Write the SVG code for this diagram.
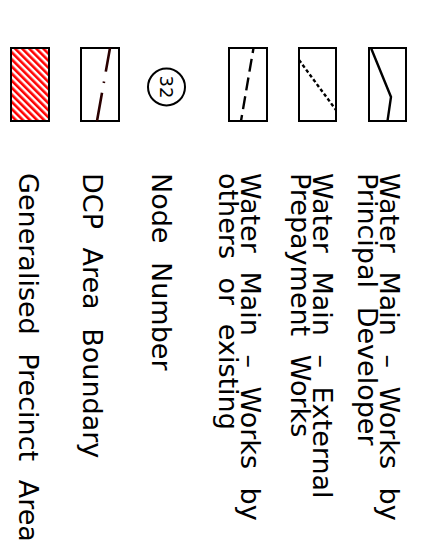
<svg xmlns="http://www.w3.org/2000/svg" width="428" height="557" viewBox="0 0 428 557">
  <defs>
    <pattern id="hatch" width="5" height="5" patternUnits="userSpaceOnUse" patternTransform="rotate(-45)">
      <rect width="5" height="5" fill="#fff"/>
      <rect width="2.6" height="5" fill="#ff0000"/>
    </pattern>
  </defs>
  <style>
    .box { fill: #fff; stroke: #000; stroke-width: 2; }
    .lbl { font-family: "DejaVu Sans ExtraLight", "DejaVu Sans", "Liberation Sans", sans-serif; font-size: 27px; fill: #000; word-spacing: 10px; }
    .num { font-family: "DejaVu Sans", "Liberation Sans", sans-serif; font-size: 18px; fill: #000; text-anchor: middle; }
    .ln { fill: none; stroke: #000; stroke-width: 2.4; }
  </style>
  <rect width="428" height="557" fill="#fff"/>

  <g id="generalised-precinct-area">
    <rect x="11" y="48" width="38" height="73" fill="url(#hatch)" stroke="#000" stroke-width="2"/>
    <text class="lbl" transform="translate(19,173) rotate(90)">Generalised Precinct Area</text>
  </g>

  <g id="dcp-area-boundary">
    <rect class="box" x="81" y="48" width="38" height="73"/>
    <line x1="110" y1="48" x2="97" y2="121" stroke="#2a0000" stroke-width="2.6" stroke-dasharray="24 10 1.5 10 40" fill="none"/>
    <text class="lbl" transform="translate(83,173) rotate(90)">DCP Area Boundary</text>
  </g>

  <g id="node-number">
    <circle cx="166.5" cy="87" r="18.5" fill="#fff" stroke="#000" stroke-width="2"/>
    <text class="num" transform="translate(166.5,87) rotate(90)" y="6.5">32</text>
    <text class="lbl" transform="translate(152,173) rotate(90)">Node Number</text>
  </g>

  <g id="works-by-others">
    <rect class="box" x="229" y="48" width="38" height="73"/>
    <line x1="253.5" y1="48" x2="241" y2="121" class="ln" stroke-width="2" stroke-dasharray="13 6" stroke-dashoffset="8"/>
    <text class="lbl" transform="translate(241,173) rotate(90)">Water Main – Works by</text>
    <text class="lbl" transform="translate(219,173) rotate(90)">others or existing</text>
  </g>

  <g id="external-prepayment">
    <rect class="box" x="299" y="48" width="37" height="73"/>
    <line x1="299" y1="60" x2="336" y2="110" class="ln" stroke-width="2.6" stroke-dasharray="3.5 2.5"/>
    <text class="lbl" transform="translate(313,173) rotate(90)">Water Main – External</text>
    <text class="lbl" transform="translate(291,173) rotate(90)">Prepayment Works</text>
  </g>

  <g id="works-by-principal-developer">
    <rect class="box" x="369" y="48" width="37" height="73"/>
    <polyline points="371,48 391,97 387.5,121" class="ln"/>
    <text class="lbl" transform="translate(380,173) rotate(90)">Water Main – Works by</text>
    <text class="lbl" transform="translate(358,173) rotate(90)">Principal Developer</text>
  </g>

  <g id="connectors"></g>
</svg>
